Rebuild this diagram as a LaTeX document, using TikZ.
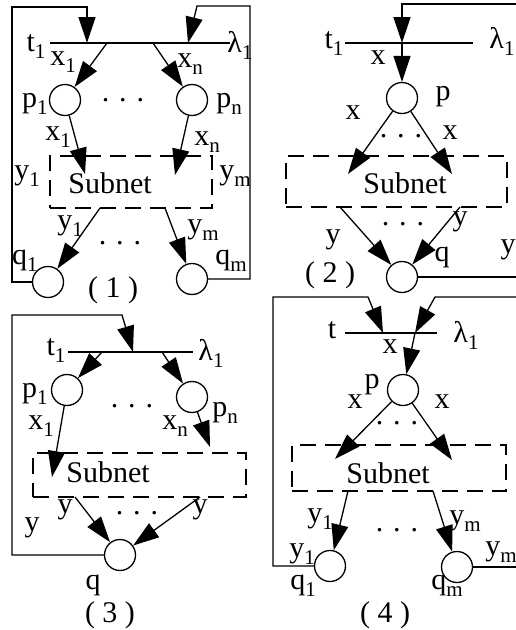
\documentclass[tikz,border=0pt]{standalone}
\usepackage{fontspec}
\setmainfont{Liberation Serif}
\usetikzlibrary{arrows.meta}
\newcommand\sbs[1]{\raisebox{-7pt}{\fontsize{21}{21}\selectfont#1}}
\begin{document}
\begin{tikzpicture}[x=1pt,y=-1pt,
  place/.style={circle,draw,minimum size=31pt,inner sep=0pt,line width=1.3pt},
  conn/.style={-{Triangle[length=26pt,width=17pt]},line width=1.3pt},
  plain/.style={line width=1.3pt},
  subnet/.style={draw,line width=1.3pt,dash pattern=on 16pt off 9pt,inner sep=0pt},
  lbl/.style={inner sep=0pt,font=\fontsize{30}{32}\selectfont},
  dots/.style={inner sep=0pt,font=\fontsize{30}{32}\selectfont}]
\useasboundingbox (0,0) rectangle (516,630);
% ---------------- Panel 1 ----------------
\coordinate (t1L) at (50,43); \coordinate (t1R) at (230,43);
\draw[plain] (t1L) -- (t1R);
\coordinate (a1in) at (87,43); \coordinate (a1n) at (188,43);
\coordinate (a1o1) at (107,43); \coordinate (a1on) at (153,43);
\node[place] (p11) at (65,100) {};
\node[place] (p1n) at (192,100) {};
\node[subnet,minimum width=162pt,minimum height=52pt] (s1) at (131,182) {};
\coordinate (s1i1) at (85,174); \coordinate (s1in) at (175,175);
\coordinate (s1o1) at (100,208); \coordinate (s1om) at (165,208);
\node[place] (q11) at (48,282) {};
\node[place] (q1m) at (192,279) {};
\draw[conn] (q11.west) -| (12,7) -| (a1in);
\draw[conn] (q1m.east) -| (250,6) -- (197,6) -- (a1n);
\draw[conn] (a1o1) -- (p11);
\draw[conn] (a1on) -- (p1n);
\draw[conn] (p11) -- (s1i1);
\draw[conn] (p1n) -- (s1in);
\draw[conn] (s1o1) -- (q11);
\draw[conn] (s1om) -- (q1m);
\node[lbl] (l1t) at (36,47) {t\sbs{1}};
\node[lbl] (l1l) at (240,45) {λ\sbs{1}};
\node[lbl] (l1x1) at (63,62) {x\sbs{1}};
\node[lbl] (l1xn) at (190,64) {x\sbs{n}};
\node[lbl] (l1p1) at (35,104) {p\sbs{1}};
\node[lbl] (l1pn) at (229,104) {p\sbs{n}};
\node[dots] (l1d1) at (123,100) {. . .};
\node[lbl] (l1x1b) at (58,137) {x\sbs{1}};
\node[lbl] (l1xnb) at (207,142) {x\sbs{n}};
\node[lbl] (l1y1) at (27,176) {y\sbs{1}};
\node[lbl] (l1ym) at (235,176) {y\sbs{m}};
\node[lbl] (l1s) at (110,183) {Subnet};
\node[lbl] (l1y1b) at (70,226) {y\sbs{1}};
\node[lbl] (l1ymb) at (203,230) {y\sbs{m}};
\node[dots] (l1d2) at (120,243) {. . .};
\node[lbl] (l1q1) at (25,261) {q\sbs{1}};
\node[lbl] (l1qm) at (231,261) {q\sbs{m}};
\node[lbl] (l1c) at (113,290) {( 1 )};
% ---------------- Panel 2 ----------------
\coordinate (t2L) at (345,43); \coordinate (t2R) at (473,43);
\draw[plain] (t2L) -- (t2R);
\coordinate (b2) at (402,43);
\node[place] (p2) at (402,98) {};
\node[subnet,minimum width=221pt,minimum height=51pt] (s2) at (396.5,181.5) {};
\coordinate (s2i1) at (348,174); \coordinate (s2i2) at (452,174);
\coordinate (s2o1) at (340,207); \coordinate (s2o2) at (460,207);
\node[place] (q2) at (402,277) {};
\draw[conn] (516,4) -| (b2);
\draw[conn] (b2) -- (p2);
\draw[conn] (p2) -- (s2i1);
\draw[conn] (p2) -- (s2i2);
\draw[conn] (s2o1) -- (q2);
\draw[conn] (s2o2) -- (q2);
\draw[plain] (q2.east) -- (516,277);
\node[lbl] (l2t) at (334,44) {t\sbs{1}};
\node[lbl] (l2l) at (502,41) {λ\sbs{1}};
\node[lbl] (l2x) at (378,58) {x};
\node[lbl] (l2p) at (443,97) {p};
\node[lbl] (l2xl) at (353,113) {x};
\node[lbl] (l2xr) at (450,133) {x};
\node[dots] (l2d1) at (401,136) {. . .};
\node[lbl] (l2s) at (405,183) {Subnet};
\node[lbl] (l2yr) at (460,222) {y};
\node[dots] (l2d2) at (403,224) {. . .};
\node[lbl] (l2yl) at (333,240) {y};
\node[lbl] (l2yf) at (508,250) {y};
\node[lbl] (l2q) at (442,257) {q};
\node[lbl] (l2c) at (330,275) {( 2 )};
% ---------------- Panel 3 ----------------
\coordinate (t3L) at (68,352); \coordinate (t3R) at (193,352);
\draw[plain] (t3L) -- (t3R);
\coordinate (b3) at (133,352);
\coordinate (a3o1) at (102,352); \coordinate (a3on) at (162,352);
\node[place] (p31) at (67,390) {};
\node[place] (p3n) at (192,397) {};
\node[subnet,minimum width=213pt,minimum height=44pt] (s3) at (139.5,475) {};
\coordinate (s3i1) at (52,477); \coordinate (s3in) at (210,447);
\coordinate (s3o1) at (75,497); \coordinate (s3o2) at (200,497);
\node[place] (q3) at (120,555) {};
\draw[conn] (q3.west) -| (12,315) -- (122,315) -- (b3);
\draw[conn] (a3o1) -- (p31);
\draw[conn] (a3on) -- (p3n);
\draw[conn] (p31) -- (s3i1);
\draw[conn] (p3n) -- (s3in);
\draw[conn] (s3o1) -- (q3);
\draw[conn] (s3o2) -- (q3);
\node[lbl] (l3t) at (56,351) {t\sbs{1}};
\node[lbl] (l3l) at (211,353) {λ\sbs{1}};
\node[lbl] (l3p1) at (35,394) {p\sbs{1}};
\node[lbl] (l3pn) at (225,413) {p\sbs{n}};
\node[dots] (l3d1) at (132,406) {. . .};
\node[lbl] (l3x1) at (41,426) {x\sbs{1}};
\node[lbl] (l3xn) at (175,426) {x\sbs{n}};
\node[lbl] (l3s) at (108,472) {Subnet};
\node[lbl] (l3yl) at (65,510) {y};
\node[lbl] (l3yr) at (200,510) {y};
\node[dots] (l3d2) at (137,513) {. . .};
\node[lbl] (l3yf) at (32,528) {y};
\node[lbl] (l3q) at (93,585) {q};
\node[lbl] (l3c) at (110,615) {( 3 )};
% ---------------- Panel 4 ----------------
\coordinate (t4L) at (345,333); \coordinate (t4R) at (437,333);
\draw[plain] (t4L) -- (t4R);
\coordinate (b4a) at (383,333); \coordinate (b4b) at (415,333);
\node[place] (p4) at (403,390) {};
\node[subnet,minimum width=214pt,minimum height=46pt] (s4) at (399,468) {};
\coordinate (s4i1) at (335,459); \coordinate (s4i2) at (452,460);
\coordinate (s4o1) at (348,491); \coordinate (s4om) at (433,491);
\node[place] (q41) at (330,566) {};
\node[place] (q4m) at (457,567) {};
\draw[conn] (q41.west) -| (273,297) -- (368,297) -- (b4a);
\draw[conn] (516,297) -- (435,297) -- (b4b);
\draw[conn] (b4b) -- (p4);
\draw[conn] (p4) -- (s4i1);
\draw[conn] (p4) -- (s4i2);
\draw[conn] (s4o1) -- (q41);
\draw[conn] (s4om) -- (q4m);
\draw[plain] (q4m.east) -- (516,567);
\node[lbl] (l4t) at (332,330) {t};
\node[lbl] (l4l) at (466,335) {λ\sbs{1}};
\node[lbl] (l4x) at (390,347) {x};
\node[lbl] (l4p) at (372,385) {p};
\node[lbl] (l4xl) at (355,402) {x};
\node[lbl] (l4xr) at (442,402) {x};
\node[dots] (l4d1) at (397,423) {. . .};
\node[lbl] (l4s) at (388,473) {Subnet};
\node[lbl] (l4y1) at (320,519) {y\sbs{1}};
\node[lbl] (l4ym) at (465,521) {y\sbs{m}};
\node[dots] (l4d2) at (397,530) {. . .};
\node[lbl] (l4y1b) at (302,554) {y\sbs{1}};
\node[lbl] (l4ymb) at (501,552) {y\sbs{m}};
\node[lbl] (l4q1) at (303,586) {q\sbs{1}};
\node[lbl] (l4qm) at (447,586) {q\sbs{m}};
\node[lbl] (l4c) at (385,615) {( 4 )};
\end{tikzpicture}
\end{document}
